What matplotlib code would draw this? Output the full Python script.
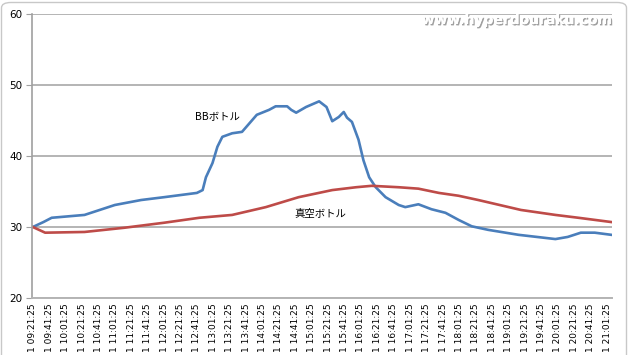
import matplotlib
matplotlib.use("Agg")
import matplotlib.pyplot as plt
import matplotlib.patheffects as pe
from matplotlib.patches import FancyBboxPatch

plt.rcParams['font.family'] = ['Noto Sans CJK JP', 'DejaVu Sans']

# minutes since 09:21:25
bb_t = [0, 13, 23, 63, 100, 132, 160, 200, 207, 211, 219, 225, 231, 243, 255, 264, 273,
        288, 296, 310, 315, 321, 333, 349, 358, 365, 373, 379, 383, 389, 397, 403, 410,
        418, 430, 446, 454, 470, 486, 503, 519, 535, 555, 592, 637, 652, 668, 685, 705]
bb_v = [30.0, 30.7, 31.3, 31.7, 33.1, 33.8, 34.2, 34.8, 35.2, 37.0, 39.0, 41.3, 42.7, 43.2,
        43.4, 44.6, 45.8, 46.5, 47.0, 47.0, 46.5, 46.1, 46.9, 47.7, 46.9, 44.9, 45.5, 46.2,
        45.4, 44.8, 42.3, 39.4, 37.0, 35.6, 34.2, 33.1, 32.8, 33.2, 32.5, 32.0, 31.0, 30.1,
        29.6, 28.9, 28.3, 28.6, 29.2, 29.2, 28.9]

vac_t = [0, 15, 63, 112, 160, 203, 243, 284, 324, 365, 394, 413, 446, 470, 495, 519, 543,
         595, 637, 665, 705]
vac_v = [30.0, 29.2, 29.3, 29.9, 30.6, 31.3, 31.7, 32.8, 34.2, 35.2, 35.6, 35.8, 35.6, 35.4,
         34.8, 34.4, 33.8, 32.4, 31.7, 31.3, 30.7]

tick_minutes = list(range(0, 701, 20))
tick_labels = []
for m in tick_minutes:
    tot = 9 * 60 + 21 + m
    tick_labels.append("1 %02d:%02d:25" % (tot // 60, tot % 60))

series_names = ["BBボトル", "真空ボトル"]

fig = plt.figure(figsize=(6.3, 3.55), dpi=100)
fig.patch.set_facecolor('white')
border = FancyBboxPatch((1.5 / 630, -0.05), 625 / 630, 1.05 - 2.5 / 355,
                        boxstyle="round,pad=0,rounding_size=0.015",
                        transform=fig.transFigure, fill=False,
                        edgecolor='#c8c8c8', linewidth=1.0)
fig.patches.append(border)

ax = fig.add_axes([32 / 630, 1 - 298 / 355, 580 / 630, 284 / 355])
ax.plot(bb_t, bb_v, color='#4a7ebb', linewidth=1.9, solid_joinstyle='round')
ax.plot(vac_t, vac_v, color='#be4b48', linewidth=1.9, solid_joinstyle='round')

ax.set_ylim(20, 60)
ax.set_xlim(-1, 706)
ax.set_yticks([20, 30, 40, 50, 60])
ax.yaxis.grid(True, color='#b4b4b4', linewidth=1.4)
ax.set_axisbelow(True)
ax.set_xticks(tick_minutes)
ax.set_xticklabels(tick_labels, rotation=90, fontsize=6.5, family='DejaVu Sans', va='top')
for lab in ax.get_yticklabels():
    lab.set_fontsize(7.5)
    lab.set_family('DejaVu Sans')
ax.tick_params(axis='y', length=4, color='#a0a0a0', pad=3)
ax.tick_params(axis='x', length=0, pad=4)
for s in ['top', 'right']:
    ax.spines[s].set_visible(False)
ax.spines['left'].set_color('#a0a0a0')
ax.spines['left'].set_linewidth(1.2)
ax.spines['bottom'].set_color('#b4b4b4')
ax.spines['bottom'].set_linewidth(1.4)

ax.text(225, 45.5, series_names[0], fontsize=7.5, ha='center', va='center', color='black')
ax.text(351, 31.8, series_names[1], fontsize=7.5, ha='center', va='center', color='black')

fig.text(612 / 630, 1 - 20 / 355, "www.hyperdouraku.com", ha='right', va='center',
         fontsize=10, fontweight='bold', color='white', family='DejaVu Sans Condensed',
         path_effects=[pe.withSimplePatchShadow(offset=(1, -1), shadow_rgbFace='#888888', alpha=0.8),
                       pe.Normal()])

fig.savefig('out.png', dpi=100)
